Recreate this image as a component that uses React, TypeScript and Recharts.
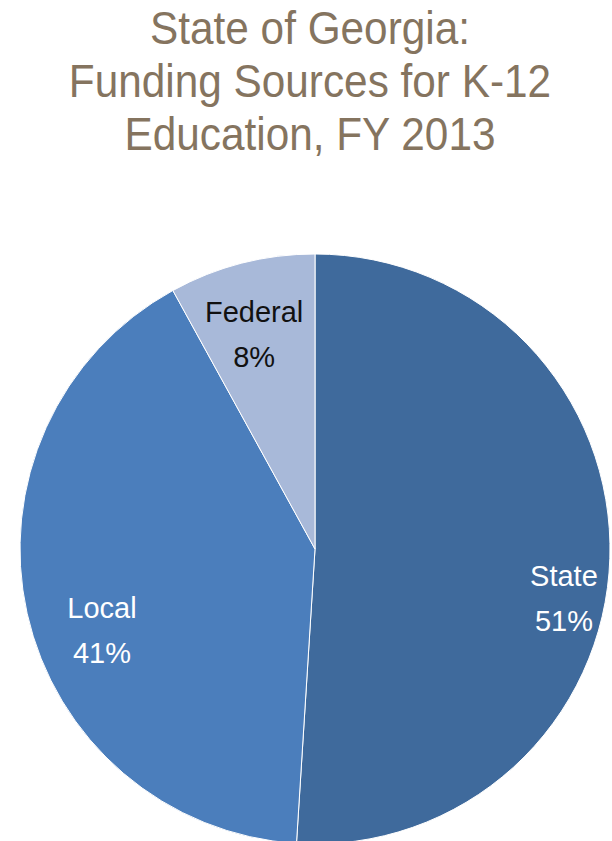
import { Cell, Pie, PieChart } from 'recharts'

const sources = ['State', 'Local', 'Federal']
const shares = [51, 41, 8]
const titleLines = ['State of Georgia:', 'Funding Sources for K-12', 'Education, FY 2013']

const COLORS = ['#3F6A9C', '#4B7EBC', '#A8B9D9']
const LABEL_COLORS = ['#ffffff', '#ffffff', '#111111']
// radius factor + angle nudge (deg) so labels land where Excel put them
const LABEL_PLACE = [
  { r: 0.86, shift: -9.3 },
  { r: 0.772, shift: 8.1 },
  { r: 0.758, shift: 1.4 },
]

const FONT = '"Liberation Sans", Arial, sans-serif'

const data = sources.map((name, i) => ({ name, value: shares[i] }))

const RAD = Math.PI / 180

function SliceLabel(props: any) {
  const { cx, cy, midAngle, outerRadius, index, name, value } = props
  const place = LABEL_PLACE[index]
  const a = (midAngle + place.shift) * RAD
  const x = cx + outerRadius * place.r * Math.cos(a)
  const y = cy - outerRadius * place.r * Math.sin(a)
  return (
    <text
      x={x}
      y={y}
      textAnchor="middle"
      fill={LABEL_COLORS[index]}
      fontFamily={FONT}
      fontSize={29}
    >
      <tspan x={x} dy={-12}>{name}</tspan>
      <tspan x={x} dy={45}>{value}%</tspan>
    </text>
  )
}

export default function App() {
  return (
    <div style={{ position: 'absolute', left: 0, top: 0, width: 612, height: 841, background: '#fff', overflow: 'hidden' }}>
      <div
        style={{
          position: 'absolute',
          left: 4,
          top: 2,
          width: 612,
          textAlign: 'center',
          fontFamily: FONT,
          fontSize: 46,
          lineHeight: '53px',
          color: '#85745F',
          transform: 'scaleX(0.92)',
          transformOrigin: 'center',
        }}
      >
        {titleLines.map((line) => (
          <div key={line}>{line}</div>
        ))}
      </div>
      <PieChart
        width={612}
        height={841}
        margin={{ top: 0, right: 0, bottom: 0, left: 0 }}
        style={{ position: 'absolute', left: 0, top: 0 }}
      >
        <Pie
          data={data}
          dataKey="value"
          nameKey="name"
          cx={315}
          cy={549}
          outerRadius={295}
          startAngle={90}
          endAngle={-270}
          stroke="#ffffff"
          strokeWidth={1}
          label={SliceLabel}
          labelLine={false}
          isAnimationActive={false}
        >
          {data.map((entry, index) => (
            <Cell key={entry.name} fill={COLORS[index]} />
          ))}
        </Pie>
      </PieChart>
    </div>
  )
}
